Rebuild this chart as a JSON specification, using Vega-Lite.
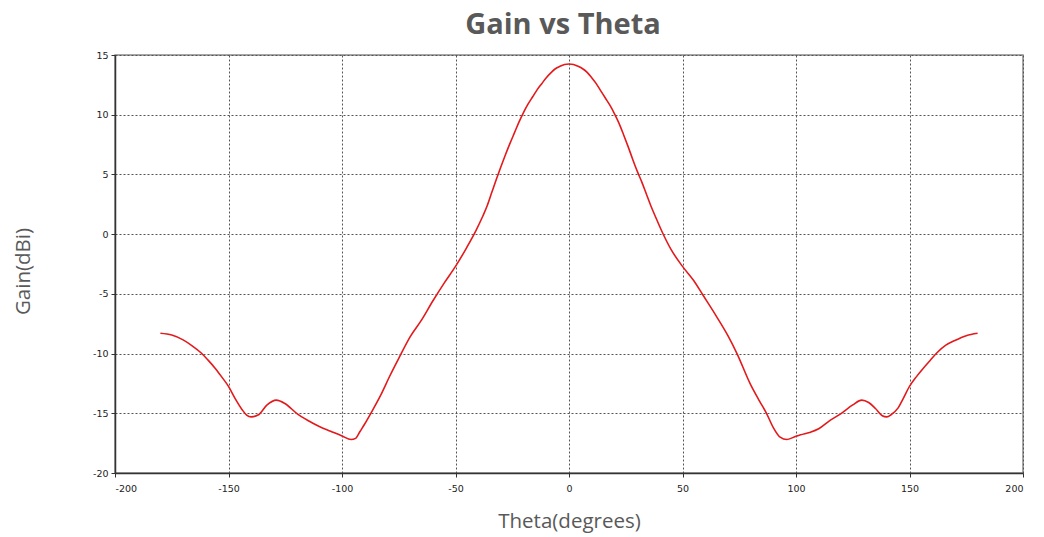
{
  "$schema": "https://vega.github.io/schema/vega-lite/v6.json",
  "width": 908,
  "height": 418,
  "autosize": "none",
  "padding": {"left": 115, "top": 55, "right": 21, "bottom": 64},
  "background": "white",
  "title": {
    "text": "Gain vs Theta",
    "font": "Open Sans",
    "fontSize": 29,
    "fontWeight": "bold",
    "color": "#595959",
    "anchor": "middle",
    "offset": 10,
    "dx": -6
  },
  "config": {
    "view": {"stroke": "#888888", "strokeWidth": 1.5},
    "axis": {
      "labelFont": "DejaVu Sans",
      "labelFontSize": 9.5,
      "labelColor": "#222222",
      "labelExpr": "toString(datum.value)",
      "domainColor": "#333333",
      "domainWidth": 1.5,
      "tickColor": "#333333",
      "tickSize": 4,
      "gridColor": "#555555",
      "gridDash": [2, 2],
      "gridWidth": 1,
      "gridOpacity": 1,
      "titleFont": "Open Sans",
      "titleFontSize": 20.5,
      "titleFontWeight": "normal",
      "titleColor": "#595959"
    }
  },
  "data": {
    "values": [
      {"theta": -180, "gain": -8.3},
      {"theta": -175, "gain": -8.45},
      {"theta": -170, "gain": -8.85},
      {"theta": -166, "gain": -9.35},
      {"theta": -162, "gain": -9.95},
      {"theta": -159, "gain": -10.55},
      {"theta": -156, "gain": -11.2},
      {"theta": -153, "gain": -11.95},
      {"theta": -150, "gain": -12.75},
      {"theta": -147, "gain": -13.8},
      {"theta": -144, "gain": -14.7},
      {"theta": -142, "gain": -15.15},
      {"theta": -140, "gain": -15.3},
      {"theta": -137, "gain": -15.15},
      {"theta": -133, "gain": -14.3},
      {"theta": -129, "gain": -13.9},
      {"theta": -125, "gain": -14.2},
      {"theta": -120, "gain": -15.0},
      {"theta": -115, "gain": -15.6},
      {"theta": -110, "gain": -16.1},
      {"theta": -105, "gain": -16.5},
      {"theta": -100, "gain": -16.9},
      {"theta": -96, "gain": -17.2},
      {"theta": -94, "gain": -17.1},
      {"theta": -92, "gain": -16.5},
      {"theta": -90, "gain": -15.9},
      {"theta": -87, "gain": -14.9},
      {"theta": -83, "gain": -13.5},
      {"theta": -79, "gain": -11.9},
      {"theta": -75, "gain": -10.4},
      {"theta": -70, "gain": -8.6},
      {"theta": -65, "gain": -7.2},
      {"theta": -60, "gain": -5.6},
      {"theta": -55, "gain": -4.1},
      {"theta": -50, "gain": -2.7},
      {"theta": -45, "gain": -1.1},
      {"theta": -41, "gain": 0.3},
      {"theta": -38, "gain": 1.5},
      {"theta": -36, "gain": 2.4},
      {"theta": -34, "gain": 3.5},
      {"theta": -32, "gain": 4.6},
      {"theta": -30, "gain": 5.65},
      {"theta": -28, "gain": 6.65},
      {"theta": -26, "gain": 7.6},
      {"theta": -24, "gain": 8.5},
      {"theta": -22, "gain": 9.4},
      {"theta": -20, "gain": 10.2},
      {"theta": -18, "gain": 10.9},
      {"theta": -16, "gain": 11.5},
      {"theta": -14, "gain": 12.1},
      {"theta": -12, "gain": 12.6},
      {"theta": -10, "gain": 13.1},
      {"theta": -8, "gain": 13.5},
      {"theta": -6, "gain": 13.85},
      {"theta": -4, "gain": 14.05},
      {"theta": -2, "gain": 14.2},
      {"theta": 0, "gain": 14.25},
      {"theta": 2, "gain": 14.2},
      {"theta": 4, "gain": 14.05},
      {"theta": 6, "gain": 13.85},
      {"theta": 8, "gain": 13.55},
      {"theta": 10, "gain": 13.1},
      {"theta": 12, "gain": 12.6},
      {"theta": 14, "gain": 12.0},
      {"theta": 16, "gain": 11.4},
      {"theta": 18, "gain": 10.8},
      {"theta": 20, "gain": 10.1},
      {"theta": 22, "gain": 9.3},
      {"theta": 24, "gain": 8.35},
      {"theta": 26, "gain": 7.35},
      {"theta": 28, "gain": 6.3},
      {"theta": 30, "gain": 5.3},
      {"theta": 32, "gain": 4.4},
      {"theta": 34, "gain": 3.4},
      {"theta": 36, "gain": 2.4},
      {"theta": 38, "gain": 1.5},
      {"theta": 41, "gain": 0.2},
      {"theta": 45, "gain": -1.3},
      {"theta": 50, "gain": -2.7},
      {"theta": 55, "gain": -3.9},
      {"theta": 59, "gain": -5.1},
      {"theta": 65, "gain": -6.9},
      {"theta": 70, "gain": -8.5},
      {"theta": 74, "gain": -10.0},
      {"theta": 80, "gain": -12.6},
      {"theta": 84, "gain": -14.0},
      {"theta": 87, "gain": -15.0},
      {"theta": 90, "gain": -16.2},
      {"theta": 93, "gain": -17.0},
      {"theta": 96, "gain": -17.2},
      {"theta": 99, "gain": -17.0},
      {"theta": 102, "gain": -16.8},
      {"theta": 106, "gain": -16.6},
      {"theta": 110, "gain": -16.3},
      {"theta": 115, "gain": -15.6},
      {"theta": 120, "gain": -15.0},
      {"theta": 125, "gain": -14.3},
      {"theta": 129, "gain": -13.9},
      {"theta": 132, "gain": -14.1},
      {"theta": 135, "gain": -14.6},
      {"theta": 138, "gain": -15.2},
      {"theta": 140, "gain": -15.3},
      {"theta": 142, "gain": -15.1},
      {"theta": 145, "gain": -14.55},
      {"theta": 147, "gain": -13.85},
      {"theta": 150, "gain": -12.75},
      {"theta": 153, "gain": -11.95},
      {"theta": 156, "gain": -11.25},
      {"theta": 159, "gain": -10.6},
      {"theta": 162, "gain": -9.95},
      {"theta": 166, "gain": -9.3},
      {"theta": 170, "gain": -8.9},
      {"theta": 175, "gain": -8.5},
      {"theta": 180, "gain": -8.3}
    ]
  },
  "mark": {"type": "line", "color": "#e31a1c", "strokeWidth": 1.6, "interpolate": "monotone"},
  "encoding": {
    "x": {
      "field": "theta",
      "type": "quantitative",
      "scale": {"domain": [-200, 200], "nice": false, "zero": false},
      "axis": {
        "title": "Theta(degrees)",
        "values": [-200, -150, -100, -50, 0, 50, 100, 150, 200],
        "labelPadding": 6,
        "titleY": 54,
        "titleBaseline": "alphabetic"
      }
    },
    "y": {
      "field": "gain",
      "type": "quantitative",
      "scale": {"domain": [-20, 15], "nice": false, "zero": false},
      "axis": {
        "title": "Gain(dBi)",
        "values": [-20, -15, -10, -5, 0, 5, 10, 15],
        "labelPadding": 3,
        "titleX": -86,
        "titleY": 216,
        "titleAngle": -90,
        "titleAlign": "center",
        "titleBaseline": "alphabetic"
      }
    }
  }
}
